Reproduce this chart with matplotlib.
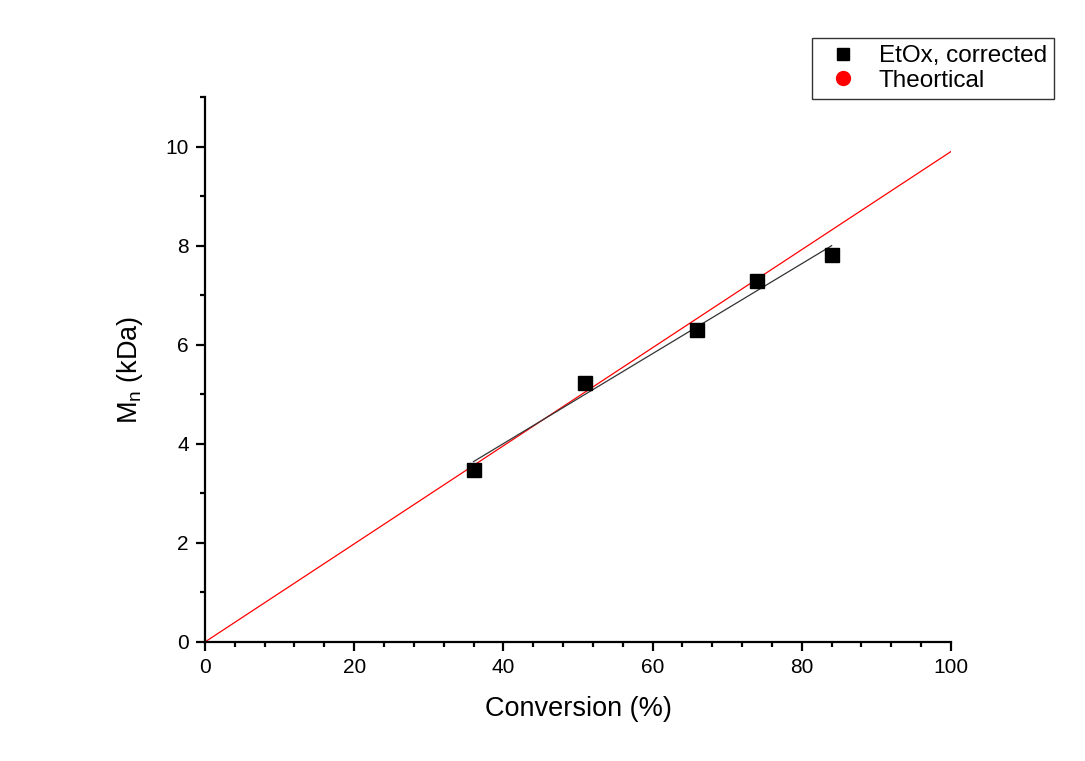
import numpy as np
import matplotlib
matplotlib.use("Agg")
import matplotlib.pyplot as plt
from matplotlib.lines import Line2D
from matplotlib.ticker import MultipleLocator

plt.rcParams['font.family'] = ['Liberation Sans', 'DejaVu Sans']
plt.rcParams['mathtext.fontset'] = 'custom'
plt.rcParams['mathtext.rm'] = 'Liberation Sans'

# EtOx, corrected
conversion = [36, 51, 66, 74, 84]
mn_kda = [3.47, 5.23, 6.30, 7.28, 7.82]

# theoretical line
theo_x = [0, 100]
theo_y = [0, 9.9]

# linear fit of measured points
slope, icpt = np.polyfit(conversion, mn_kda, 1)
fit_x = np.array([min(conversion), max(conversion)])
fit_y = slope * fit_x + icpt

fig = plt.figure(figsize=(10.85, 7.61), dpi=100)
ax = fig.add_axes([0.1889, 0.1564, 0.6876, 0.7161])

ax.plot(theo_x, theo_y, color="red", lw=0.9, zorder=2)
ax.plot(fit_x, fit_y, color="#333333", lw=0.9, zorder=2)
ax.plot(conversion, mn_kda, ls="none", marker="s", ms=9.5, color="black", zorder=3)

ax.set_xlim(0, 100)
ax.set_ylim(0, 11)
ax.xaxis.set_major_locator(MultipleLocator(20))
ax.xaxis.set_minor_locator(MultipleLocator(4))
ax.yaxis.set_major_locator(MultipleLocator(2))
ax.yaxis.set_minor_locator(MultipleLocator(1))
ax.spines['top'].set_visible(False)
ax.spines['right'].set_visible(False)
for s in ['left', 'bottom']:
    ax.spines[s].set_linewidth(1.6)
ax.tick_params(which='major', direction='out', length=6.5, width=1.6, labelsize=15, pad=5)
ax.tick_params(which='minor', direction='out', length=3.6, width=1.6)

ax.set_xlabel("Conversion (%)", fontsize=19.5, labelpad=14)
ax.set_ylabel("M$_{\\mathregular{n}}$ (kDa)", fontsize=19.5, labelpad=15)

handles = [
    Line2D([], [], ls="none", marker="s", ms=9, color="black"),
    Line2D([], [], ls="none", marker="o", ms=10, color="red"),
]
leg = fig.legend(handles, ["EtOx, corrected", "Theortical"], loc="upper right",
                 bbox_to_anchor=(0.9714, 0.9501), fontsize=17.5, frameon=True,
                 fancybox=False, edgecolor="black", borderaxespad=0,
                 handletextpad=0.45, labelspacing=0.1, borderpad=0.3)
leg.get_frame().set_linewidth(1.0)

fig.savefig("out.png", dpi=100, facecolor="white")
